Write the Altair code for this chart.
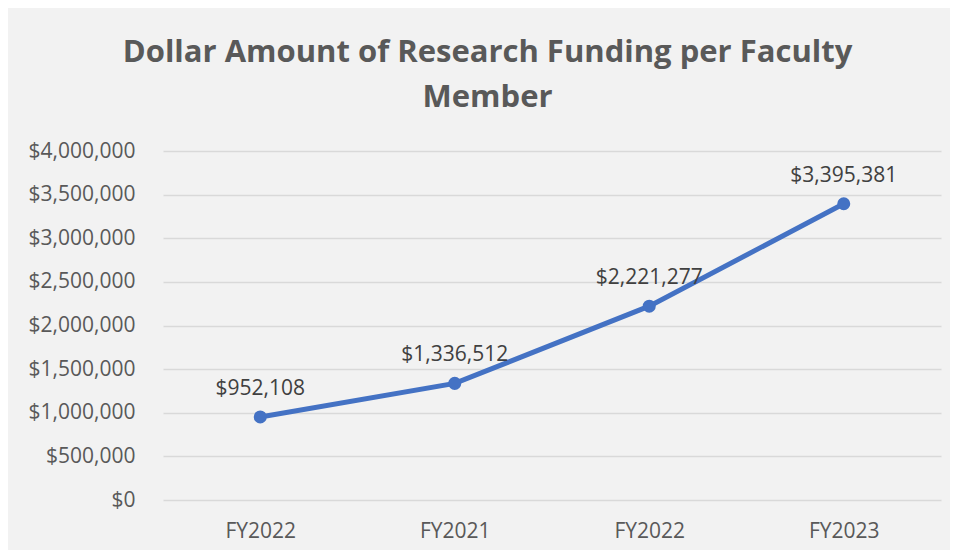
import json
import altair as alt
import pandas as pd

fiscal_years = ["FY2022", "FY2021", "FY2022", "FY2023"]
funding = [952108, 1336512, 2221277, 3395381]
y_ticks = [0, 500000, 1000000, 1500000, 2000000, 2500000, 3000000, 3500000, 4000000]
title_lines = ["Dollar Amount of Research Funding per Faculty", "Member"]

df = pd.DataFrame({"idx": list(range(len(fiscal_years))), "year": fiscal_years, "funding": funding})

label_expr = json.dumps(fiscal_years) + "[datum.value]"

x = alt.X("idx:O", axis=alt.Axis(title=None, labelExpr=label_expr, labelAngle=0,
                                  labelPadding=20, ticks=False, domain=False,
                                  labelFont="Open Sans", labelFontSize=21, labelColor="#595959"))
y = alt.Y("funding:Q", scale=alt.Scale(domain=[0, 4000000], nice=False),
          axis=alt.Axis(title=None, values=y_ticks, format="$,.0f", ticks=False, domain=False,
                        labelPadding=28, labelFont="Open Sans", labelFontSize=21, labelColor="#595959",
                        gridColor="#d9d9d9", gridWidth=1.5))

base = alt.Chart(df)
line = base.mark_line(color="#4472c4", strokeWidth=5).encode(x=x, y=y)
pts = base.mark_circle(color="#4472c4", size=170, opacity=1).encode(x=x, y=y)
labels = base.mark_text(font="Open Sans", fontSize=21, color="#404040", baseline="bottom", dy=-18).encode(
    x=x, y=y, text=alt.Text("funding:Q", format="$,.0f"))

chart = (line + pts + labels).properties(
    width=778, height=349,
    background="#f2f2f2",
    autosize=alt.AutoSizeParams(type="none"),
    padding={"left": 155, "top": 143, "right": 9, "bottom": 50},
    title=alt.TitleParams(title_lines, font="Open Sans", fontSize=31, fontWeight="bold",
                          color="#595959", anchor="middle", frame="bounds", lineHeight=45, offset=26, dx=3),
).configure_view(stroke=None)

chart.save("out.html", embed_options={"renderer": "svg", "actions": False})
